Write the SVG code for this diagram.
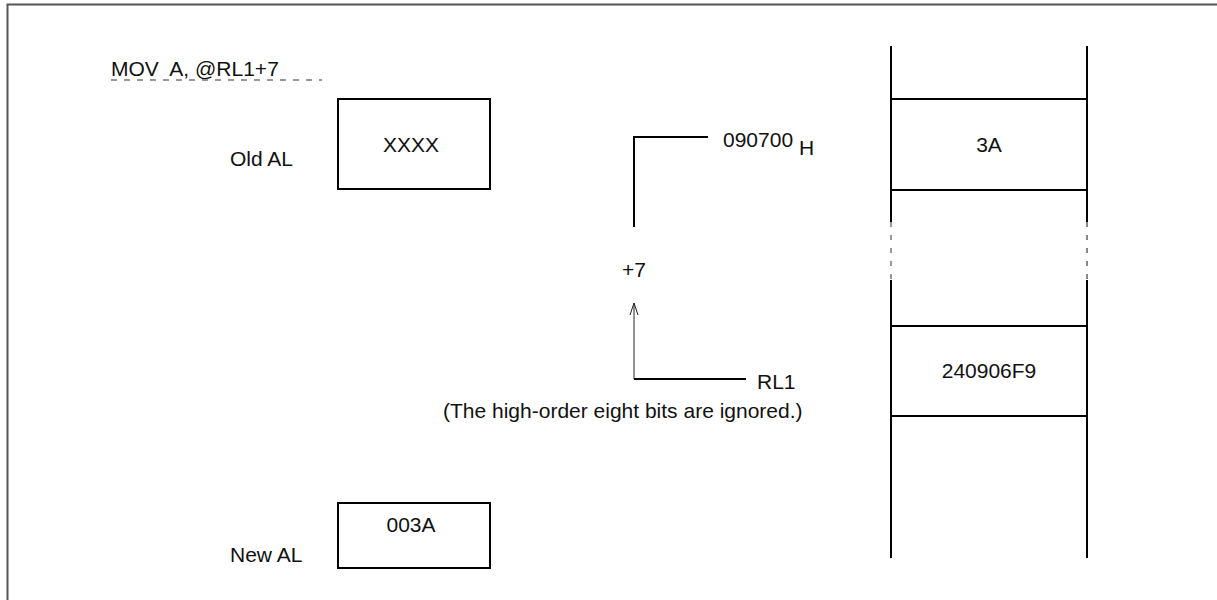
<svg xmlns="http://www.w3.org/2000/svg" width="1217" height="600" viewBox="0 0 1217 600">
<style>
text{font-family:"Liberation Sans",Arial,sans-serif;font-size:21px;fill:#111}
.box{fill:#fff;stroke:#000;stroke-width:2}
.ln{stroke:#000;stroke-width:2;fill:none}
.thin{stroke:#222;stroke-width:1;fill:none}
.dash{stroke:#333;stroke-width:1.2;fill:none}
.mid{text-anchor:middle}
</style>
<defs>
<marker id="arr" viewBox="0 0 14 10" refX="13" refY="5" markerWidth="14" markerHeight="10" markerUnits="userSpaceOnUse" orient="auto">
<path d="M1,1 L13,5 L1,9" fill="none" stroke="#222" stroke-width="1"/>
</marker>
</defs>
<rect width="1217" height="600" fill="#fff"/>
<path d="M7.5,600 V4.5 H1217" stroke="#555" stroke-width="2" fill="none"/>
<g id="instruction">
<text x="111" y="76" xml:space="preserve">MOV  A, @RL1+7</text>
<line x1="111" y1="80" x2="322" y2="80" class="dash" stroke-dasharray="6 7"/>
</g>
<g id="oldAL">
<rect x="338" y="99" width="152" height="90" class="box"/>
<text x="411" y="152" class="mid">XXXX</text>
<text x="230" y="166">Old AL</text>
</g>
<g id="newAL">
<rect x="338" y="503" width="152" height="65" class="box"/>
<text x="411" y="532" class="mid">003A</text>
<text x="230" y="562">New AL</text>
</g>
<g id="connectors">
<path d="M634,227 V137 H708" class="ln"/>
<path d="M746,379 H634" class="ln"/>
<path d="M634,379 V303" class="thin" marker-end="url(#arr)"/>
</g>
<g id="labels">
<text x="723" y="147">090700</text>
<text x="799" y="155">H</text>
<text x="622" y="277">+7</text>
<text x="757" y="389">RL1</text>
<text x="443" y="418">(The high-order eight bits are ignored.)</text>
</g>
<g id="memory">
<path d="M891,46 V222 M891,280 V558 M1087,46 V222 M1087,280 V558" class="ln"/>
<path d="M891,222 V280" stroke="#777" stroke-width="1.5" stroke-dasharray="5 8"/>
<path d="M1087,222 V280" stroke="#111" stroke-width="1" stroke-dasharray="5 8"/>
<path d="M891,99 H1087 M891,190 H1087 M891,326 H1087 M891,416 H1087" class="ln"/>
<text x="989" y="152" class="mid">3A</text>
<text x="989" y="378" class="mid">240906F9</text>
</g>
</svg>
